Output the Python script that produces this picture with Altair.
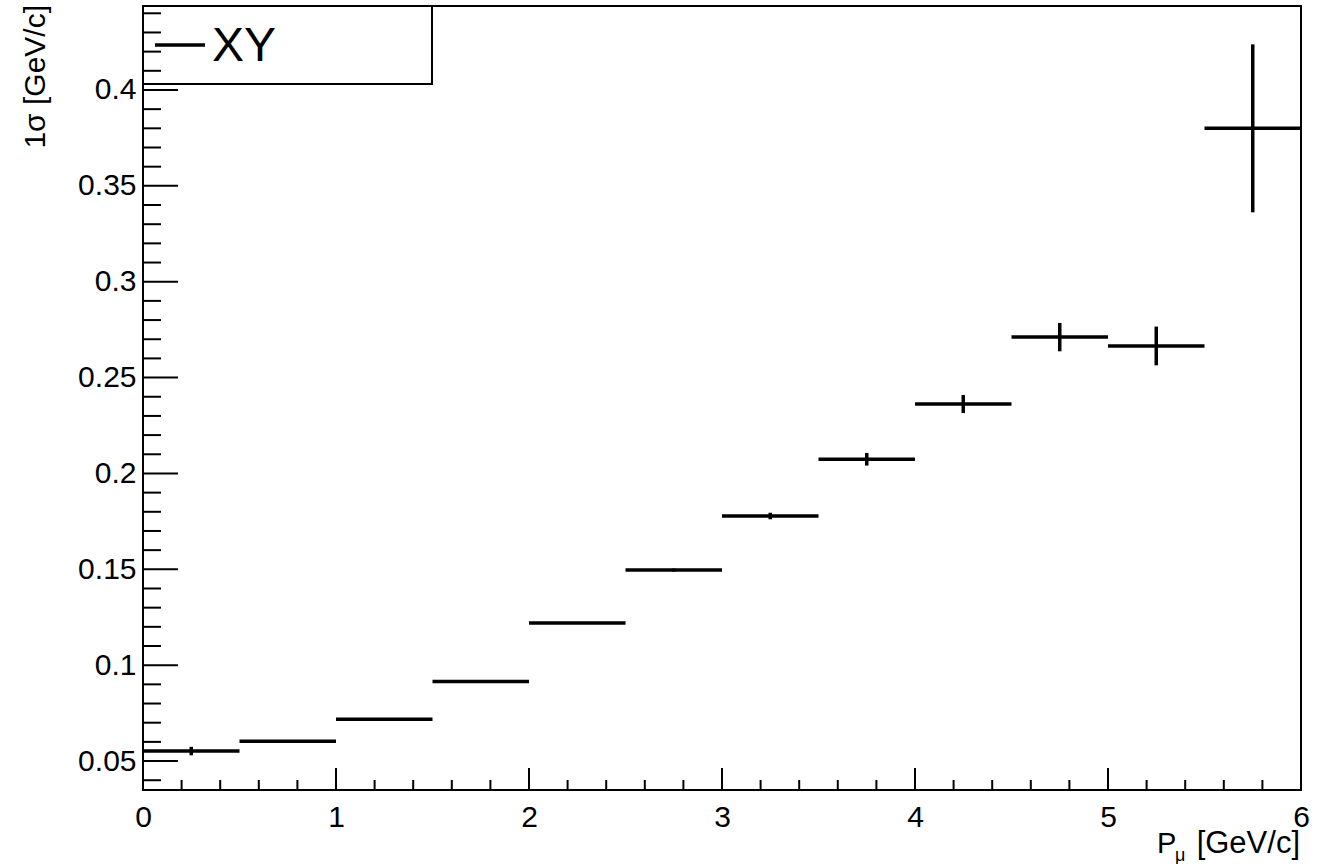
import altair as alt
import pandas as pd

# Bin edges of the muon momentum P_mu [GeV/c]
bin_lo = [0.0, 0.5, 1.0, 1.5, 2.0, 2.5, 3.0, 3.5, 4.0, 4.5, 5.0, 5.5]
bin_hi = [0.5, 1.0, 1.5, 2.0, 2.5, 3.0, 3.5, 4.0, 4.5, 5.0, 5.5, 6.0]
# 1 sigma resolution per bin [GeV/c] and its uncertainty
sigma = [0.0552, 0.0603, 0.0718, 0.0915, 0.1220, 0.1496, 0.1778, 0.2074, 0.2362, 0.2711, 0.2665, 0.3800]
sigma_err = [0.0022, 0.0003, 0.0003, 0.0004, 0.0005, 0.0008, 0.0017, 0.0033, 0.0047, 0.0074, 0.0101, 0.0438]

x_major = [0, 1, 2, 3, 4, 5, 6]
x_minor = [round(0.2 * i, 1) for i in range(31) if i % 5 != 0]
y_major = [0.05, 0.1, 0.15, 0.2, 0.25, 0.3, 0.35, 0.4]
y_minor = [round(0.01 * i, 2) for i in range(4, 45) if i % 5 != 0]

X_DOMAIN = [0, 6]
Y_DOMAIN = [0.0349, 0.4438]
W, H = 1158, 784
FONT = "Liberation Sans"

df = pd.DataFrame({"lo": bin_lo, "hi": bin_hi, "s": sigma, "e": sigma_err})
df["mid"] = (df["lo"] + df["hi"]) / 2
df["s_lo"] = df["s"] - df["e"]
df["s_hi"] = df["s"] + df["e"]

xs = alt.Scale(domain=X_DOMAIN, nice=False, zero=False)
ys = alt.Scale(domain=Y_DOMAIN, nice=False, zero=False)

x_axis = alt.Axis(values=x_major, format="d", title=None, domain=False, ticks=False, grid=False,
                  labelFont=FONT, labelFontSize=30, labelColor="black", labelPadding=12,
                  labelOverlap=False, labelBound=False, labelFlush=False)
y_axis = alt.Axis(values=y_major, title=None, domain=False, ticks=False, grid=False,
                  labelFont=FONT, labelFontSize=30, labelColor="black", labelPadding=7,
                  labelOverlap=False, labelBound=False,
                  labelExpr="format(datum.value, '.2~f')")

base = alt.Chart(df)

# horizontal bin-width bars
hbars = base.mark_rule(color="black", strokeWidth=3.5).encode(
    x=alt.X("lo:Q", scale=xs, axis=x_axis),
    x2="hi:Q",
    y=alt.Y("s:Q", scale=ys, axis=y_axis),
)
# vertical error bars
vbars = base.mark_rule(color="black", strokeWidth=3.5).encode(
    x=alt.X("mid:Q", scale=xs),
    y=alt.Y("s_lo:Q", scale=ys),
    y2="s_hi:Q",
)

# inward ticks, ROOT style
def xticks(vals, length):
    return alt.Chart(pd.DataFrame({"v": vals})).mark_rule(color="black", strokeWidth=2).encode(
        x=alt.X("v:Q", scale=xs), y=alt.value(H), y2=alt.value(H - length))

def yticks(vals, length):
    return alt.Chart(pd.DataFrame({"v": vals})).mark_rule(color="black", strokeWidth=2).encode(
        y=alt.Y("v:Q", scale=ys), x=alt.value(0), x2=alt.value(length))

ticks = xticks(x_major, 22) + xticks(x_minor, 10) + yticks(y_major, 35) + yticks(y_minor, 18)

one = pd.DataFrame({"k": [0]})

# legend box
leg_box = alt.Chart(one).mark_rect(fill="white", fillOpacity=0, stroke="black", strokeWidth=2).encode(
    x=alt.value(0), x2=alt.value(289), y=alt.value(0), y2=alt.value(78))
leg_line = alt.Chart(one).mark_rule(color="black", strokeWidth=3.5).encode(
    x=alt.value(12), x2=alt.value(62), y=alt.value(39))
leg_text = alt.Chart(pd.DataFrame({"t": ["XY"]})).mark_text(
    font=FONT, fontSize=48, align="left", baseline="middle", color="black").encode(
    x=alt.value(69), y=alt.value(41), text="t:N")

# axis titles
y_title = alt.Chart(pd.DataFrame({"t": ["1σ [GeV/c]"]})).mark_text(
    font=FONT, fontSize=30, align="right", baseline="alphabetic", angle=270, color="black").encode(
    x=alt.value(-98), y=alt.value(-1), text="t:N")
x_title_p = alt.Chart(pd.DataFrame({"t": ["P"]})).mark_text(
    font=FONT, fontSize=29, align="left", baseline="alphabetic", color="black").encode(
    x=alt.value(1014), y=alt.value(847), text="t:N")
x_title_mu = alt.Chart(pd.DataFrame({"t": ["μ"]})).mark_text(
    font=FONT, fontSize=18, align="left", baseline="alphabetic", color="black").encode(
    x=alt.value(1032), y=alt.value(855), text="t:N")
x_title_u = alt.Chart(pd.DataFrame({"t": ["[GeV/c]"]})).mark_text(
    font=FONT, fontSize=31, align="right", baseline="alphabetic", color="black").encode(
    x=alt.value(1157), y=alt.value(847), text="t:N")

chart = alt.layer(
    hbars, vbars, ticks, leg_box, leg_line, leg_text,
    y_title, x_title_p, x_title_mu, x_title_u,
).properties(
    width=W, height=H,
    autosize=alt.AutoSizeParams(type="none"),
    padding={"left": 143, "top": 6, "right": 30, "bottom": 74},
    background="white",
).configure_view(
    stroke="black", strokeWidth=2, fill="white"
)

chart.save("out.html", embed_options={"renderer": "svg", "actions": False})
